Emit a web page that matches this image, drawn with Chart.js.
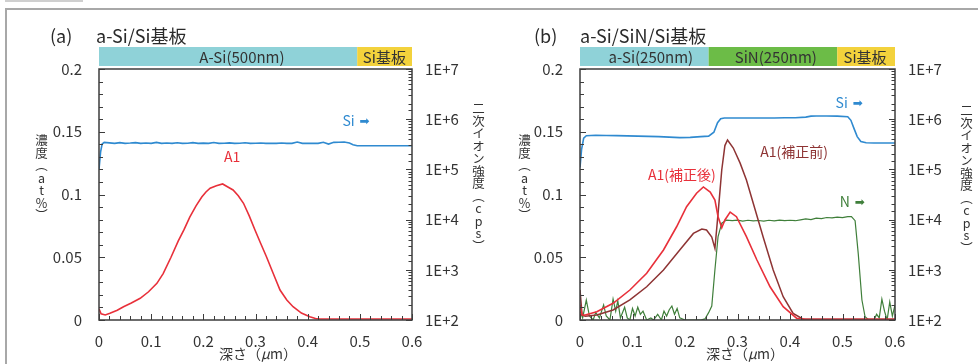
<!DOCTYPE html>
<html><head><meta charset="utf-8">
<script src="https://cdn.jsdelivr.net/npm/chart.js@4.4.1/dist/chart.umd.min.js"></script>
<style>
html,body{margin:0;padding:0;background:#fff;}
body{width:978px;height:364px;position:relative;overflow:hidden;font-family:"Noto Sans CJK JP","Noto Sans",sans-serif;color:#333;}
#frame{position:absolute;left:5px;top:8px;width:1000px;height:400px;border:2px solid #a8a8a8;box-sizing:border-box;}
#tab{position:absolute;left:5px;top:0;width:78px;height:2px;background:#cfcfcf;}
canvas{position:absolute;top:0;}
#c1{left:0}#c2{left:489px}
.ttl{position:absolute;font-size:18px;line-height:22px;white-space:nowrap;color:#2a2a2a;}
.vt{position:absolute;writing-mode:vertical-rl;text-orientation:upright;font-size:12.5px;line-height:14px;color:#333;white-space:nowrap;}
.xt{position:absolute;font-size:14px;line-height:16px;white-space:nowrap;color:#333;transform:translateX(-50%);}
</style></head><body>
<div id="frame"></div><div id="tab"></div>
<canvas id="c1" width="489" height="364"></canvas>
<canvas id="c2" width="489" height="364"></canvas>
<div class="ttl" style="left:50px;top:24px;">(a)</div>
<div class="ttl" style="left:96px;top:24px;">a-Si/Si基板</div>
<div class="ttl" style="left:534px;top:24px;">(b)</div>
<div class="ttl" style="left:580px;top:24px;">a-Si/SiN/Si基板</div>
<div class="vt" style="left:34px;top:134px;">濃度（at%）</div>
<div class="vt" style="left:517px;top:134px;">濃度（at%）</div>
<div class="vt" style="left:471px;top:102px;">二次イオン強度（cps）</div>
<div class="vt" style="left:959px;top:104px;">二次イオン強度（cps）</div>
<div class="xt" style="left:258px;top:345px;">深さ（<i>μ</i>m）</div>
<div class="xt" style="left:745px;top:345px;">深さ（<i>μ</i>m）</div>
<script>
// ---------- Panel (a): a-Si/Si substrate ----------
const aSiDepth = [0, 0.003, 0.006, 0.01, 0.02, 0.03, 0.04, 0.05, 0.06, 0.07, 0.08, 0.09, 0.10, 0.11, 0.12, 0.13, 0.14, 0.15, 0.16, 0.17, 0.18, 0.19, 0.20, 0.21, 0.22, 0.23, 0.24, 0.25, 0.26, 0.27, 0.28, 0.29, 0.30, 0.31, 0.32, 0.33, 0.34, 0.35, 0.36, 0.37, 0.38, 0.39, 0.40, 0.41, 0.42, 0.43, 0.44, 0.45, 0.46, 0.47, 0.48, 0.487, 0.495, 0.52, 0.54, 0.56, 0.58, 0.60];
const aSiCps = [1.0e5, 2.2e5, 3.2e5, 3.45e5, 3.38e5, 3.3e5, 3.42e5, 3.3e5, 3.35e5, 3.42e5, 3.3e5, 3.36e5, 3.3e5, 3.45e5, 3.3e5, 3.35e5, 3.3e5, 3.4e5, 3.3e5, 3.32e5, 3.42e5, 3.3e5, 3.34e5, 3.3e5, 3.44e5, 3.3e5, 3.32e5, 3.38e5, 3.3e5, 3.32e5, 3.4e5, 3.3e5, 3.32e5, 3.35e5, 3.3e5, 3.31e5, 3.3e5, 3.36e5, 3.3e5, 3.3e5, 3.5e5, 3.3e5, 3.3e5, 3.32e5, 3.3e5, 3.48e5, 3.2e5, 3.46e5, 3.47e5, 3.5e5, 3.35e5, 3.1e5, 2.95e5, 2.95e5, 2.95e5, 2.95e5, 2.95e5, 2.95e5];
const aA1Depth = [0, 0.004, 0.012, 0.021, 0.035, 0.047, 0.062, 0.079, 0.095, 0.111, 0.123, 0.138, 0.152, 0.163, 0.174, 0.186, 0.197, 0.205, 0.213, 0.225, 0.237, 0.247, 0.257, 0.267, 0.277, 0.288, 0.299, 0.31, 0.321, 0.334, 0.347, 0.36, 0.372, 0.388, 0.404, 0.415, 0.424, 0.45, 0.5, 0.55, 0.6];
const aA1Conc = [0.009, 0.005, 0.004, 0.0053, 0.0078, 0.0106, 0.0135, 0.0173, 0.0225, 0.0292, 0.037, 0.050, 0.063, 0.072, 0.082, 0.091, 0.098, 0.102, 0.105, 0.107, 0.1084, 0.106, 0.1036, 0.099, 0.093, 0.083, 0.0717, 0.061, 0.0504, 0.037, 0.0239, 0.016, 0.0106, 0.0055, 0.0026, 0.0012, 0.0008, 0.0008, 0.0008, 0.0008, 0.0008];
const aLayerStart = [0, 0.495];
const aLayerEnd = [0.495, 0.6];
const aLayerLabel = ['A-Si(500nm)', 'Si基板'];
const aLayerLabelAt = [0.274, 0.547];
const aLayerColor = ['#8fd2d8', '#f3d23c'];
const aNoteText = ['Si', 'A1'];
const aNoteArrow = [true, false];
const aNoteDepth = [0.49, 0.255];
const aNoteConc = [0.1586, 0.130];
const aNoteColor = ['#2f8ad0', '#e8303a'];

// ---------- Panel (b): a-Si/SiN/Si substrate ----------
const bSiDepth = [0, 0.003, 0.007, 0.012, 0.03, 0.05, 0.07, 0.09, 0.11, 0.13, 0.15, 0.17, 0.19, 0.21, 0.23, 0.245, 0.255, 0.262, 0.268, 0.275, 0.29, 0.31, 0.33, 0.35, 0.37, 0.39, 0.41, 0.43, 0.44, 0.45, 0.47, 0.49, 0.51, 0.516, 0.522, 0.528, 0.535, 0.545, 0.56, 0.58, 0.6];
const bSiCps = [1.1e5, 2.5e5, 4.2e5, 4.7e5, 4.8e5, 4.75e5, 4.7e5, 4.65e5, 4.6e5, 4.55e5, 4.5e5, 4.4e5, 4.3e5, 4.35e5, 4.5e5, 4.6e5, 5.5e5, 8.5e5, 1.02e6, 1.06e6, 1.06e6, 1.06e6, 1.06e6, 1.06e6, 1.06e6, 1.07e6, 1.07e6, 1.1e6, 1.15e6, 1.16e6, 1.16e6, 1.15e6, 1.12e6, 9.5e5, 6.5e5, 4.5e5, 3.6e5, 3.4e5, 3.35e5, 3.35e5, 3.35e5];
const bNDepth = [0, 0.005, 0.012, 0.018, 0.025, 0.03, 0.037, 0.045, 0.05, 0.057, 0.063, 0.068, 0.072, 0.077, 0.085, 0.09, 0.095, 0.1, 0.105, 0.11, 0.115, 0.12, 0.127, 0.135, 0.14, 0.148, 0.155, 0.16, 0.165, 0.17, 0.175, 0.18, 0.185, 0.19, 0.2, 0.21, 0.22, 0.23, 0.238, 0.245, 0.251, 0.257, 0.263, 0.27, 0.279, 0.29, 0.3, 0.31, 0.32, 0.33, 0.34, 0.35, 0.36, 0.37, 0.38, 0.39, 0.4, 0.41, 0.42, 0.43, 0.44, 0.45, 0.46, 0.47, 0.48, 0.49, 0.5, 0.51, 0.517, 0.524, 0.53, 0.537, 0.543, 0.55, 0.56, 0.565, 0.57, 0.575, 0.58, 0.585, 0.59, 0.595, 0.6];
const bNCps = [150, 110, 250, 120, 100, 140, 110, 200, 120, 100, 260, 150, 240, 110, 180, 110, 100, 170, 120, 180, 130, 150, 100, 110, 100, 130, 100, 150, 120, 160, 190, 130, 170, 110, 100, 100, 100, 100, 105, 140, 190, 1000, 4600, 8500, 9800, 9500, 9800, 9300, 9700, 9400, 9600, 9300, 9700, 9400, 9800, 9500, 9700, 9500, 9900, 10300, 10000, 10700, 10500, 11000, 10800, 11200, 11000, 11500, 11500, 9500, 2100, 250, 116, 100, 100, 130, 110, 260, 150, 100, 230, 120, 200];
const bA1AfterDepth = [0, 0.004, 0.01, 0.032, 0.063, 0.095, 0.127, 0.159, 0.184, 0.203, 0.222, 0.235, 0.248, 0.257, 0.263, 0.27, 0.276, 0.286, 0.298, 0.317, 0.337, 0.362, 0.387, 0.413, 0.43, 0.5, 0.6];
const bA1AfterConc = [0.012, 0.004, 0.004, 0.0066, 0.0133, 0.0239, 0.0372, 0.0558, 0.0743, 0.0903, 0.101, 0.106, 0.102, 0.0956, 0.0823, 0.0735, 0.0797, 0.086, 0.0823, 0.0664, 0.0478, 0.0265, 0.0106, 0.0013, 0.0006, 0.0006, 0.0006];
const bA1BeforeDepth = [0, 0.004, 0.01, 0.032, 0.063, 0.095, 0.127, 0.159, 0.19, 0.216, 0.232, 0.241, 0.251, 0.257, 0.263, 0.27, 0.276, 0.281, 0.292, 0.305, 0.317, 0.33, 0.349, 0.368, 0.387, 0.406, 0.425, 0.45, 0.5, 0.6];
const bA1BeforeConc = [0.024, 0.004, 0.003, 0.004, 0.008, 0.016, 0.0265, 0.0398, 0.0558, 0.069, 0.0725, 0.0717, 0.066, 0.057, 0.085, 0.1195, 0.139, 0.1434, 0.137, 0.125, 0.1116, 0.093, 0.066, 0.0398, 0.0186, 0.0053, 0.0006, 0.0006, 0.0006, 0.0006];
const bLayerStart = [0, 0.245, 0.49];
const bLayerEnd = [0.245, 0.49, 0.6];
const bLayerLabel = ['a-Si(250nm)', 'SiN(250nm)', 'Si基板'];
const bLayerLabelAt = [0.135, 0.373, 0.543];
const bLayerColor = ['#8fd2d8', '#6cbc47', '#f3d23c'];
const bNoteText = ['Si', 'A1(補正前)', 'A1(補正後)', 'N'];
const bNoteArrow = [true, false, false, true];
const bNoteDepth = [0.51, 0.408, 0.194, 0.514];
const bNoteConc = [0.173, 0.134, 0.1155, 0.094];
const bNoteColor = ['#2f8ad0', '#8e3434', '#e8303a', '#3f7f3a'];

// axis ranges
const depthMin = 0, depthMax = 0.6, concMin = 0, concMax = 0.2, cpsMin = 100, cpsMax = 1e7;

const FONT = '"Noto Sans CJK JP","Noto Sans",sans-serif';
const pts = (d, v) => d.map((x, i) => ({x: x, y: v[i]}));
const fmt = v => { const r = Math.round(v * 100) / 100; return r === 0 ? '0' : String(r); };

const panelPlugin = {
  id: 'panel',
  afterDatasetsDraw(chart, args, o) {
    const ctx = chart.ctx;
    const {left, right, top, bottom} = chart.chartArea;
    const x = chart.scales.x, y = chart.scales.y, y2 = chart.scales.y2;
    ctx.save();
    // layer bands
    o.layerStart.forEach((s, i) => {
      const x0 = x.getPixelForValue(s), x1 = x.getPixelForValue(o.layerEnd[i]);
      ctx.fillStyle = o.layerColor[i];
      ctx.fillRect(x0, top - 22, x1 - x0, 19);
    });
    ctx.fillStyle = '#333';
    ctx.font = '15px ' + FONT;
    ctx.textAlign = 'center';
    ctx.textBaseline = 'middle';
    o.layerLabel.forEach((t, i) => ctx.fillText(t, x.getPixelForValue(o.layerLabelAt[i]), top - 12));
    // frame
    ctx.strokeStyle = '#3c3c3c';
    ctx.lineWidth = 1.5;
    ctx.strokeRect(left, top, right - left, bottom - top);
    // inward ticks
    ctx.lineWidth = 1;
    ctx.beginPath();
    for (let i = 0; i <= 30; i++) {
      const px = Math.round(x.getPixelForValue(i * 0.02)) + 0.5;
      const len = i % 5 === 0 ? 6 : 4;
      ctx.moveTo(px, bottom); ctx.lineTo(px, bottom - len);
    }
    for (let i = 0; i <= 20; i++) {
      const py = Math.round(y.getPixelForValue(i * 0.01)) + 0.5;
      const len = i % 5 === 0 ? 6 : 4;
      ctx.moveTo(left, py); ctx.lineTo(left + len, py);
    }
    y2.ticks.forEach(t => {
      const e = Math.log10(t.value);
      const major = Math.abs(e - Math.round(e)) < 1e-9;
      const py = Math.round(y2.getPixelForValue(t.value)) + 0.5;
      const len = major ? 6 : 3.5;
      ctx.moveTo(right, py); ctx.lineTo(right - len, py);
    });
    ctx.stroke();
    // annotations
    o.noteText.forEach((t, i) => {
      const px = x.getPixelForValue(o.noteDepth[i]), py = y.getPixelForValue(o.noteConc[i]);
      ctx.fillStyle = o.noteColor[i];
      ctx.font = '14px ' + FONT;
      if (o.noteArrow[i]) {
        ctx.textAlign = 'right';
        ctx.fillText(t, px, py);
        ctx.textAlign = 'left';
        ctx.font = '12px "DejaVu Sans",sans-serif';
        ctx.fillText('➡', px + 5, py + 1);
      } else {
        ctx.textAlign = 'center';
        ctx.fillText(t, px, py);
      }
    });
    ctx.restore();
  }
};

function makeChart(id, datasets, leftW, rightW, panelOpts) {
  const tickFont = {size: 15, family: FONT};
  return new Chart(document.getElementById(id), {
    type: 'line',
    data: {datasets: datasets},
    options: {
      responsive: false, animation: false, devicePixelRatio: 1,
      layout: {padding: {top: 69, left: 0, right: 0, bottom: 0}},
      plugins: {legend: {display: false}, tooltip: {enabled: false}, panel: panelOpts},
      elements: {point: {radius: 0}, line: {tension: 0, borderWidth: 1.5}},
      scales: {
        x: {type: 'linear', min: depthMin, max: depthMax, position: 'bottom',
          grid: {display: false}, border: {display: false},
          ticks: {stepSize: 0.1, padding: 4, color: '#333', font: tickFont, maxRotation: 0, autoSkip: false, callback: v => fmt(v)},
          afterFit(s) { s.height = 44; }},
        y: {type: 'linear', min: concMin, max: concMax, position: 'left',
          grid: {display: false}, border: {display: false},
          ticks: {stepSize: 0.05, padding: 9, color: '#333', font: tickFont, callback: v => fmt(v)},
          afterFit(s) { s.width = leftW; }},
        y2: {type: 'logarithmic', min: cpsMin, max: cpsMax, position: 'right',
          grid: {display: false}, border: {display: false},
          ticks: {padding: 5, color: '#333', font: tickFont, autoSkip: false,
            callback: v => { const e = Math.log10(v); return Math.abs(e - Math.round(e)) < 1e-9 ? '1E+' + Math.round(e) : ''; }},
          afterFit(s) { s.width = rightW; }}
      }
    },
    plugins: [panelPlugin]
  });
}

makeChart('c1', [
  {label: 'A1', data: pts(aA1Depth, aA1Conc), yAxisID: 'y', borderColor: '#e8303a', borderWidth: 1.6},
  {label: 'Si', data: pts(aSiDepth, aSiCps), yAxisID: 'y2', borderColor: '#2f8ad0', borderWidth: 1.6}
], 99, 77, {layerStart: aLayerStart, layerEnd: aLayerEnd, layerLabel: aLayerLabel, layerLabelAt: aLayerLabelAt, layerColor: aLayerColor,
  noteText: aNoteText, noteArrow: aNoteArrow, noteDepth: aNoteDepth, noteConc: aNoteConc, noteColor: aNoteColor});

makeChart('c2', [
  {label: 'A1(補正後)', data: pts(bA1AfterDepth, bA1AfterConc), yAxisID: 'y', borderColor: '#e8303a', borderWidth: 1.6},
  {label: 'A1(補正前)', data: pts(bA1BeforeDepth, bA1BeforeConc), yAxisID: 'y', borderColor: '#8e3434', borderWidth: 1.5},
  {label: 'Si', data: pts(bSiDepth, bSiCps), yAxisID: 'y2', borderColor: '#2f8ad0', borderWidth: 1.6},
  {label: 'N', data: pts(bNDepth, bNCps), yAxisID: 'y2', borderColor: '#3f7f3a', borderWidth: 1.2}
], 91, 83, {layerStart: bLayerStart, layerEnd: bLayerEnd, layerLabel: bLayerLabel, layerLabelAt: bLayerLabelAt, layerColor: bLayerColor,
  noteText: bNoteText, noteArrow: bNoteArrow, noteDepth: bNoteDepth, noteConc: bNoteConc, noteColor: bNoteColor});
</script>
</body></html>
